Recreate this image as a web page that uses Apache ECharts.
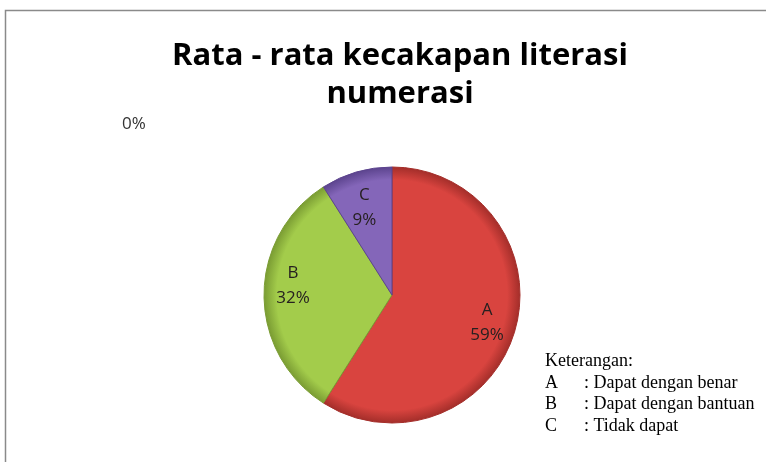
<!DOCTYPE html>
<html>
<head>
<meta charset="utf-8">
<script src="https://cdn.jsdelivr.net/npm/echarts@6/dist/echarts.min.js"></script>
<style>
  html, body { margin: 0; padding: 0; background: #fff; }
  #chart { width: 766px; height: 462px; }
</style>
</head>
<body>
<div id="chart"></div>
<script>
  // data
  const categories = ['A', 'B', 'C'];
  const values = [59, 32, 9];
  const sliceColors = ['#D9443F', '#A3CC4B', '#8466B9'];
  const rimColors = ['#A42E2A', '#7A9C33', '#5C448E'];
  const legendKeys = ['A', 'B', 'C'];
  const legendTexts = [': Dapat dengan benar', ': Dapat dengan bantuan', ': Tidak dapat'];

  const cx = 392, cy = 295, r = 128;

  let chart = echarts.init(document.getElementById('chart'));

  const pieData = categories.map((c, i) => ({
    name: c,
    value: values[i],
    itemStyle: {
      color: {
        type: 'radial', x: cx, y: cy, r: r, global: true,
        colorStops: [
          { offset: 0, color: sliceColors[i] },
          { offset: 0.9, color: sliceColors[i] },
          { offset: 1, color: rimColors[i] }
        ]
      },
      borderColor: rimColors[i],
      borderWidth: 1
    }
  }));

  const serif = '18px "Liberation Serif", "Times New Roman", serif';
  const graphics = [
    // frame
    { type: 'rect', shape: { x: 5.5, y: 10.5, width: 800, height: 500 },
      style: { fill: 'none', stroke: '#8a8a8a', lineWidth: 1.5 }, silent: true },
    { type: 'text', x: 122, y: 124,
      style: { text: '0%', font: '17px "Open Sans", sans-serif', fill: '#333', verticalAlign: 'middle' } },
    { type: 'text', x: 545, y: 361,
      style: { text: 'Keterangan:', font: serif, fill: '#000', verticalAlign: 'middle' } }
  ];
  legendKeys.forEach((k, i) => {
    graphics.push({ type: 'text', x: 545, y: 383 + i * 21.7,
      style: { text: k, font: serif, fill: '#000', verticalAlign: 'middle' } });
    graphics.push({ type: 'text', x: 584, y: 383 + i * 21.7,
      style: { text: legendTexts[i], font: serif, fill: '#000', verticalAlign: 'middle' } });
  });

  chart.setOption({
    animation: false,
    title: {
      text: 'Rata - rata kecakapan literasi\nnumerasi',
      left: 395, top: 32, textAlign: 'center',
      textStyle: { fontFamily: 'Open Sans', fontWeight: 'bold', fontSize: 31, lineHeight: 38, color: '#000' }
    },
    graphic: graphics,
    series: [
      {
        type: 'pie',
        center: [cx, cy],
        radius: [0, r],
        startAngle: 90,
        clockwise: true,
        silent: true,
        label: { show: false },
        labelLine: { show: false },
        data: pieData
      },
      {
        // transparent overlay for placing the labels further out
        type: 'pie',
        center: [cx, cy],
        radius: [r * 0.5, r],
        startAngle: 90,
        clockwise: true,
        silent: true,
        itemStyle: { color: 'rgba(0,0,0,0)' },
        label: {
          show: true,
          position: 'inside',
          formatter: p => p.name + '\n' + Math.round(p.percent) + '%',
          fontFamily: 'Open Sans',
          fontSize: 17,
          lineHeight: 25,
          color: '#262020'
        },
        // small nudges so the labels sit like the original (B a bit up, C a bit down)
        labelLayout: p => ({ dy: [0, -9, 8][p.dataIndex] }),
        labelLine: { show: false },
        data: categories.map((c, i) => ({ name: c, value: values[i] }))
      }
    ]
  });
</script>
</body>
</html>
